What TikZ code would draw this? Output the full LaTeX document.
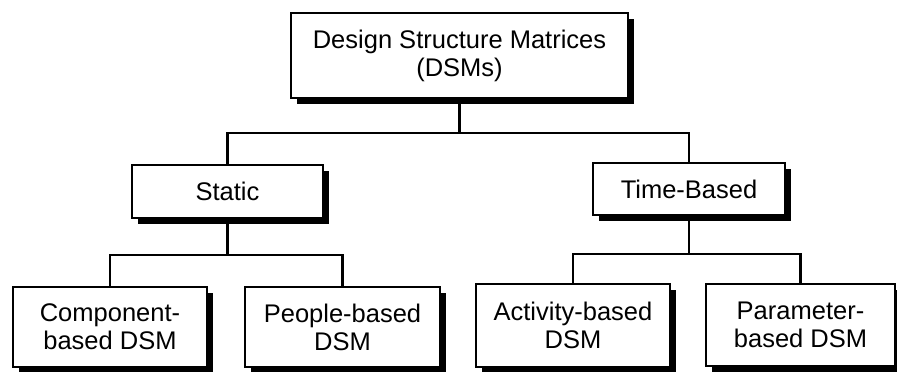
\documentclass[tikz,border=0pt]{standalone}
\usepackage{fontspec}
\setmainfont{Liberation Sans}
\usetikzlibrary{shadows}
\begin{document}
\begin{tikzpicture}[x=1pt,y=-1pt,
  box/.style={draw=black, line width=2.8pt, fill=white, rectangle, inner sep=0pt,
    align=center, font=\fontsize{25.5}{28}\selectfont,
    drop shadow={shadow xshift=5.5pt, shadow yshift=-5.5pt, fill=black, opacity=1}},
  conn/.style={draw=black, line width=2.8pt}]
\useasboundingbox (0,0) rectangle (897,372);
\fill[white] (0,0) rectangle (897,372);
\node[box, minimum width=337pt, minimum height=85pt] (top) at (459.5,55.5) {Design Structure Matrices\\(DSMs)};
\node[box, minimum width=191pt, minimum height=53pt] (static) at (227.5,191.5) {Static};
\node[box, minimum width=192pt, minimum height=52pt] (time) at (689,189) {Time-Based};
\node[box, minimum width=194pt, minimum height=80pt] (comp) at (110,327) {Component-\\based DSM};
\node[box, minimum width=195pt, minimum height=80pt] (people) at (342.5,327) {People-based\\DSM};
\node[box, minimum width=194pt, minimum height=83pt] (act) at (573,325.5) {Activity-based\\DSM};
\node[box, minimum width=189pt, minimum height=82pt] (param) at (800.5,325) {Parameter-\\based DSM};
\coordinate (j1) at (461,133);
\coordinate (j2) at (228,255);
\coordinate (j3) at (690,254);
\draw[conn] (top.south) -- (top.south |- j1);
\draw[conn] (static.north) |- (j1) -| (time.north);
\draw[conn] (static.south) -- (static.south |- j2);
\draw[conn] (comp.north) |- (j2) -| (people.north);
\draw[conn] (time.south) -- (time.south |- j3);
\draw[conn] (act.north) |- (j3) -| (param.north);
\end{tikzpicture}
\end{document}
